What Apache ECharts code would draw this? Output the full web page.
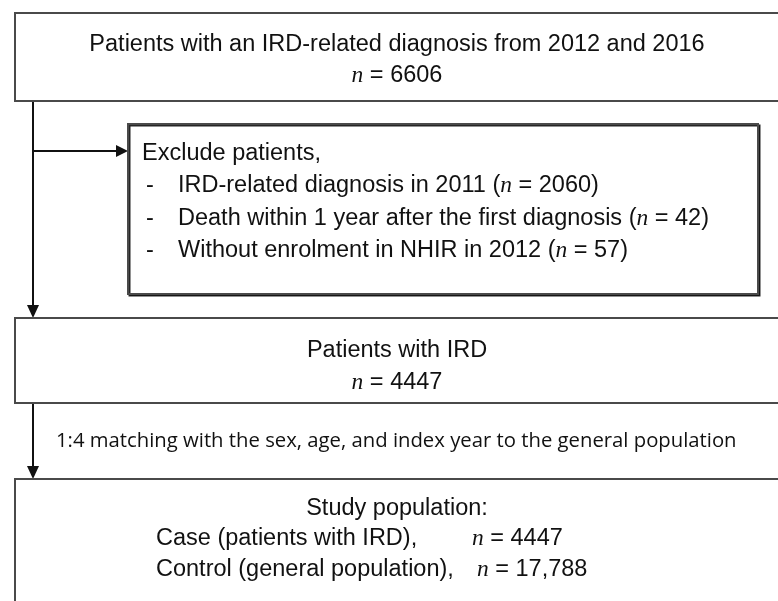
<!DOCTYPE html>
<html>
<head>
<meta charset="utf-8">
<script src="https://cdn.jsdelivr.net/npm/echarts@6/dist/echarts.min.js"></script>
<style>html,body{margin:0;padding:0;background:#fff}#c{width:778px;height:601px}</style>
</head>
<body>
<div id="c"></div>
<script>
// ---- data ----
const totalN = 6606;
const excludeReasons = ['IRD-related diagnosis in 2011', 'Death within 1 year after the first diagnosis', 'Without enrolment in NHIR in 2012'];
const excludeCounts = [2060, 42, 57];
const iRDN = 4447;
const controlN = 17788;
const topTitle = 'Patients with an IRD-related diagnosis from 2012 and 2016';
const excludeTitle = 'Exclude patients,';
const iRDTitle = 'Patients with IRD';
const matchingText = '1:4 matching with the sex, age, and index year to the general population';
const studyTitle = 'Study population:';
const groupLabels = ['Case (patients with IRD),', 'Control (general population),'];
const groupCounts = [iRDN, controlN];

// ---- layout ----
const SANS = '"Liberation Sans", Arial, sans-serif';
const FS = 23.5;
const LINE = '#4a4a4a';
const CX = 397;
const rich = { n: { fontFamily: '"Liberation Serif", "Times New Roman", serif', fontStyle: 'italic', fontSize: FS, fill: '#111' } };
const fmt = (v) => v.toLocaleString('en-US');
const nText = (v) => '{n|n} = ' + (v >= 10000 ? fmt(v) : String(v));

function box(x, y, w, h, shadow) {
  return { type: 'rect', shape: { x, y, width: w, height: h },
    style: { fill: '#fff', stroke: LINE, lineWidth: 2,
      shadowColor: shadow ? 'rgba(0,0,0,0.85)' : 'transparent', shadowOffsetX: shadow ? 1.5 : 0, shadowOffsetY: shadow ? 1.5 : 0, shadowBlur: 0 } };
}
function txt(x, y, s, align, extra) {
  return { type: 'text', x, y, style: Object.assign({ text: s, fontFamily: SANS, fontSize: FS, fill: '#111', align: align || 'left', verticalAlign: 'middle', rich }, extra || {}) };
}
function line(x1, y1, x2, y2) {
  return { type: 'line', shape: { x1, y1, x2, y2 }, style: { stroke: '#111', lineWidth: 2 } };
}
function arrowDown(x, tipY) {
  return { type: 'polygon', shape: { points: [[x - 6, tipY - 13], [x + 6, tipY - 13], [x, tipY]] }, style: { fill: '#111' } };
}
function arrowRight(tipX, y) {
  return { type: 'polygon', shape: { points: [[tipX - 12, y - 6], [tipX - 12, y + 6], [tipX, y]] }, style: { fill: '#111' } };
}

const els = [];
// connectors
els.push(line(33, 101, 33, 306));
els.push(arrowDown(33, 318));
els.push(line(33, 151, 117, 151));
els.push(arrowRight(128, 151));
els.push(line(33, 403, 33, 467));
els.push(arrowDown(33, 479));
// boxes
els.push(box(15, 13, 800, 88));
els.push(box(128, 124, 630, 170, true));
els.push(box(15, 318, 800, 85));
els.push(box(15, 479, 800, 160));
// box 1
els.push(txt(CX, 45, topTitle, 'center'));
els.push(txt(CX, 76, nText(totalN), 'center'));
// box 2
els.push(txt(142, 154, excludeTitle));
excludeReasons.forEach((r, i) => {
  const y = 186 + i * 32.5;
  els.push(txt(146, y, '-'));
  els.push(txt(178, y, r + ' ({n|n} = ' + excludeCounts[i] + ')'));
});
// box 3
els.push(txt(CX, 351, iRDTitle, 'center'));
els.push(txt(CX, 383, nText(iRDN), 'center'));
// matching
els.push(txt(56, 441, matchingText, 'left', { fontFamily: '"Open Sans", "Noto Sans", sans-serif', fontSize: 20.3 }));
// box 4
els.push(txt(CX, 509, studyTitle, 'center'));
groupLabels.forEach((g, i) => {
  const y = 539 + i * 31;
  els.push(txt(156, y, g));
  els.push(txt(i === 0 ? 472 : 477, y, nText(groupCounts[i])));
});

const chart = echarts.init(document.getElementById('c'), null, { renderer: 'canvas' });
chart.setOption({ backgroundColor: '#fff', animation: false, graphic: { elements: els } });
</script>
</body>
</html>
